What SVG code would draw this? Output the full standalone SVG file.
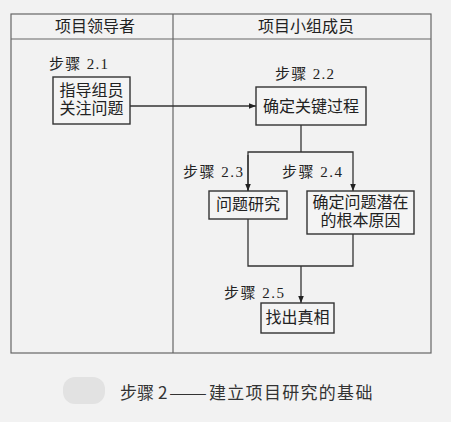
<svg xmlns="http://www.w3.org/2000/svg" width="451" height="422" viewBox="0 0 451 422">
<style>
text{font-family:"Liberation Serif","Noto Sans CJK SC",serif;fill:#222;}
.h{font-size:16px;text-anchor:middle;}
.n{font-size:16px;text-anchor:middle;}
.s{font-size:15px;}
.box{fill:#f4f4f4;stroke:#333;stroke-width:1.4;}
.frame{fill:none;stroke:#666;stroke-width:1.2;}
.c{fill:none;stroke:#333;stroke-width:1.3;}
.cap{font-family:"Noto Sans CJK SC",sans-serif;font-size:17px;fill:#333;}
</style>
<defs>
<marker id="ah" viewBox="0 0 10 10" refX="10" refY="5" markerWidth="7" markerHeight="7" markerUnits="userSpaceOnUse" orient="auto">
<path d="M0,1 L10,5 L0,9 Z" fill="#222"/>
</marker>
</defs>
<rect width="451" height="422" fill="#f2f2f2"/>
<g id="frame">
<rect class="frame" x="11" y="14" width="420" height="339"/>
<line class="frame" x1="11" y1="39" x2="431" y2="39"/>
<line class="frame" x1="173" y1="14" x2="173" y2="353"/>
<text class="h" x="95" y="32">项目领导者</text>
<text class="h" x="306" y="32">项目小组成员</text>
</g>
<g id="connectors">
<line class="c" x1="130" y1="106" x2="256" y2="106" marker-end="url(#ah)"/>
<polyline class="c" points="301,125 301,152"/>
<polyline class="c" points="248,191 248,152 353,152 353,191" marker-end="url(#ah)"/>
<line class="c" x1="248" y1="155" x2="248" y2="191" marker-end="url(#ah)"/>
<polyline class="c" points="248,219 248,266 353,266 353,234"/>
<line class="c" x1="301" y1="266" x2="301" y2="303" marker-end="url(#ah)"/>
</g>
<g id="n1">
<text class="s" x="49" y="69" textLength="59">步骤 2.1</text>
<rect class="box" x="53" y="77" width="77" height="47"/>
<text class="n" x="91.5" y="96">指导组员</text>
<text class="n" x="91.5" y="114">关注问题</text>
</g>
<g id="n2">
<text class="s" x="275" y="79" textLength="59">步骤 2.2</text>
<rect class="box" x="256" y="87" width="110" height="38"/>
<text class="n" x="311" y="112">确定关键过程</text>
</g>
<g id="n3">
<text class="s" x="183" y="177" textLength="60">步骤 2.3</text>
<rect class="box" x="209" y="191" width="78" height="28"/>
<text class="n" x="248" y="210">问题研究</text>
</g>
<g id="n4">
<text class="s" x="282" y="177" textLength="60">步骤 2.4</text>
<rect class="box" x="307" y="191" width="107" height="43"/>
<text class="n" x="360.5" y="208">确定问题潜在</text>
<text class="n" x="360.5" y="226">的根本原因</text>
</g>
<g id="n5">
<text class="s" x="224" y="298" textLength="60">步骤 2.5</text>
<rect class="box" x="261" y="303" width="73" height="30"/>
<text class="n" x="297.5" y="323">找出真相</text>
</g>
<g id="caption">
<rect x="63" y="377" width="42" height="27" rx="12" fill="#e2e2e2"/>
<text class="cap" y="399"><tspan x="120">步骤</tspan><tspan x="158">2</tspan><tspan x="169" textLength="38" lengthAdjust="spacingAndGlyphs">——</tspan><tspan x="209" letter-spacing="1.3">建立项目研究的基础</tspan></text>
</g>
</svg>
